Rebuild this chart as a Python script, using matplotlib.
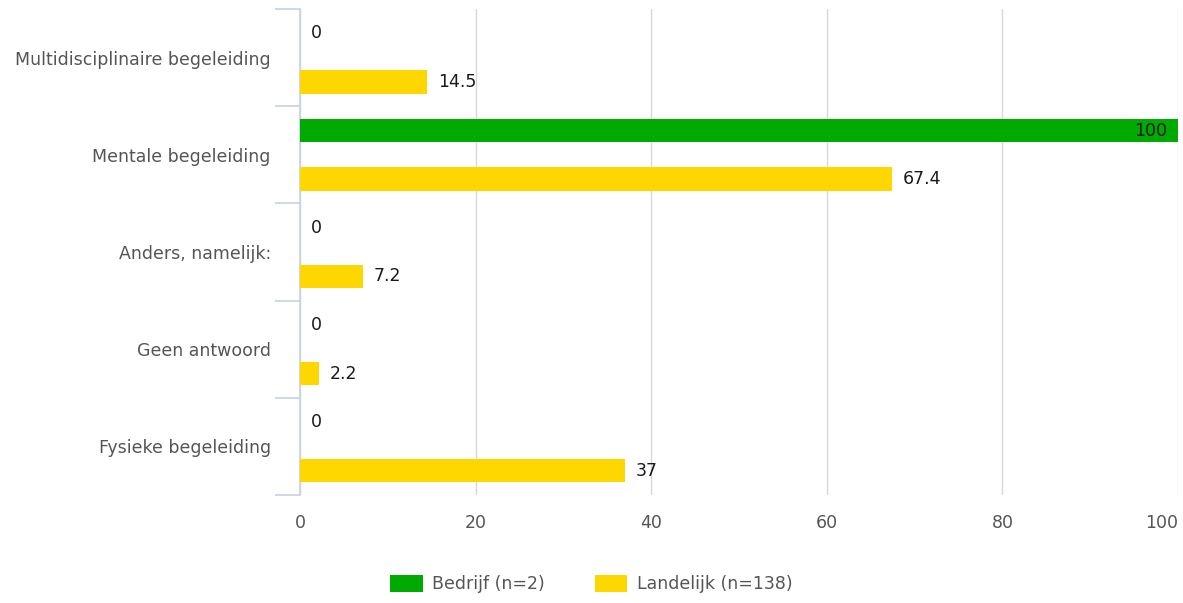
import numpy as np
import matplotlib.pyplot as plt
from matplotlib.patches import Patch

categories = ["Multidisciplinaire begeleiding", "Mentale begeleiding",
              "Anders, namelijk:", "Geen antwoord", "Fysieke begeleiding"]
bedrijf = [0, 100, 0, 0, 0]
landelijk = [14.5, 67.4, 7.2, 2.2, 37]
series_names = ["Bedrijf (n=2)", "Landelijk (n=138)"]

green = "#00aa00"
yellow = "#ffd700"
axis_col = "#c4d2e2"
grid_col = "#d8d8d8"
text_col = "#555555"
fs = 12.5

plt.rcParams['font.family'] = ['DejaVu Sans']

fig = plt.figure(figsize=(11.83, 6.03), dpi=100)
ax = fig.add_axes([300 / 1183, 1 - 495 / 603, 878 / 1183, 486 / 603])

y = np.arange(len(categories))
h = 0.25
ax.barh(y - h, bedrijf, height=0.24, color=green, zorder=3)
ax.barh(y + h, landelijk, height=0.24, color=yellow, zorder=3)

# value labels next to (or inside) the bars
for i in range(len(categories)):
    for val, yy in ((bedrijf[i], y[i] - h), (landelijk[i], y[i] + h)):
        label = f"{val:g}"
        if val >= 95:
            ax.text(val - 1.2, yy, label, ha="right", va="center",
                    fontsize=fs, color="#1a1a1a", zorder=4)
        else:
            ax.text(val + 1.2, yy, label, ha="left", va="center",
                    fontsize=fs, color="#1a1a1a", zorder=4)

ax.set_xlim(0, 100)
ax.set_ylim(len(categories) - 0.5, -0.5)
ax.set_xticks(np.arange(0, 101, 20))
ax.xaxis.grid(True, color=grid_col, linewidth=1, zorder=0)
ax.set_yticks(y)
ax.set_yticklabels(categories)
ax.set_yticks(np.arange(-0.5, len(categories), 1), minor=True)

for s in ["top", "right", "bottom"]:
    ax.spines[s].set_visible(False)
ax.spines["left"].set_color(axis_col)
ax.spines["left"].set_linewidth(1.2)

ax.tick_params(axis="y", which="major", length=0, pad=21, labelsize=fs,
               labelcolor=text_col)
ax.tick_params(axis="y", which="minor", length=18, color=axis_col, width=1.2)
ax.tick_params(axis="x", length=0, pad=14, labelsize=fs, labelcolor=text_col)
ax.get_xticklabels()[-1].set_horizontalalignment("right")

handles = [Patch(facecolor=green, label=series_names[0]),
           Patch(facecolor=yellow, label=series_names[1])]
fig.legend(handles=handles, loc="center", bbox_to_anchor=(0.5, 1 - 584 / 603),
           ncol=2, frameon=False, fontsize=fs, handlelength=1.85,
           handleheight=1.15, handletextpad=0.55, columnspacing=2.9,
           labelcolor=text_col)

fig.savefig("out.png", dpi=100)
